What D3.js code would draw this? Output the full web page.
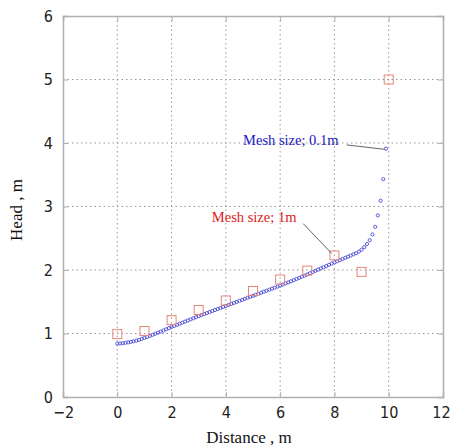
<!DOCTYPE html>
<html>
<head>
<meta charset="utf-8">
<script src="https://cdn.jsdelivr.net/npm/d3@7"></script>
<style>
body{margin:0;background:#fff;}
</style>
</head>
<body>
<div id="chart_area"></div>
<script>
// coarse mesh (1m) results
var coarse_x=[0,1,2,3,4,5,6,7,8,9,10];
var coarse_h=[0.99,1.04,1.21,1.37,1.52,1.67,1.85,1.99,2.23,1.97,5.0];
// fine mesh (0.1m) results, x = 0.0 .. 9.9
var fine_x=[0,0.1,0.2,0.3,0.4,0.5,0.6,0.7,0.8,0.9,
            1,1.1,1.2,1.3,1.4,1.5,1.6,1.7,1.8,1.9,
            2,2.1,2.2,2.3,2.4,2.5,2.6,2.7,2.8,2.9,
            3,3.1,3.2,3.3,3.4,3.5,3.6,3.7,3.8,3.9,
            4,4.1,4.2,4.3,4.4,4.5,4.6,4.7,4.8,4.9,
            5,5.1,5.2,5.3,5.4,5.5,5.6,5.7,5.8,5.9,
            6,6.1,6.2,6.3,6.4,6.5,6.6,6.7,6.8,6.9,
            7,7.1,7.2,7.3,7.4,7.5,7.6,7.7,7.8,7.9,
            8,8.1,8.2,8.3,8.4,8.5,8.6,8.7,8.8,8.9,
            9,9.1,9.2,9.3,9.4,9.5,9.6,9.7,9.8,9.9];
var fine_h=[0.84,0.843,0.847,0.853,0.86,0.868,0.877,0.888,0.90,0.915,
            0.93,0.946,0.962,0.979,0.996,1.013,1.03,1.048,1.066,1.084,
            1.102,1.12,1.137,1.154,1.171,1.188,1.205,1.222,1.239,1.256,
            1.273,1.29,1.306,1.322,1.338,1.354,1.37,1.386,1.402,1.418,
            1.434,1.45,1.466,1.482,1.498,1.514,1.53,1.546,1.562,1.578,
            1.594,1.61,1.626,1.642,1.658,1.674,1.69,1.706,1.722,1.738,
            1.754,1.771,1.788,1.805,1.822,1.84,1.858,1.876,1.894,1.912,
            1.93,1.949,1.968,1.987,2.006,2.025,2.044,2.063,2.082,2.101,
            2.12,2.138,2.156,2.174,2.192,2.21,2.228,2.247,2.266,2.29,
            2.32,2.36,2.41,2.47,2.56,2.68,2.86,3.09,3.43,3.91];
var x_ticks=[-2,0,2,4,6,8,10,12];
var y_ticks=[0,1,2,3,4,5,6];

var svg=d3.select("#chart_area")
          .append("svg")
          .attr("width",451)
          .attr("height",448);

var plot_l=63,plot_r=443,plot_t=16,plot_b=397;
var x=d3.scaleLinear().domain([-2,12]).range([plot_l,plot_r]);
var y=d3.scaleLinear().domain([0,6]).range([plot_b,plot_t]);

var tick_font="'DejaVu Sans Condensed','Liberation Sans Narrow',sans-serif";
var serif="'Liberation Serif','DejaVu Serif',serif";

// grid
svg.append("g").selectAll("line").data(x_ticks.slice(1,-1)).enter().append("line")
   .attr("x1",d=>x(d)).attr("x2",d=>x(d)).attr("y1",plot_t).attr("y2",plot_b)
   .attr("stroke","#999").attr("stroke-width",1).attr("stroke-dasharray","1.5,3");
svg.append("g").selectAll("line").data(y_ticks.slice(1,-1)).enter().append("line")
   .attr("x1",plot_l).attr("x2",plot_r).attr("y1",d=>y(d)).attr("y2",d=>y(d))
   .attr("stroke","#999").attr("stroke-width",1).attr("stroke-dasharray","1.5,3");

// axes
var xaxis=svg.append("g").attr("transform","translate(0,"+plot_b+")")
   .call(d3.axisBottom(x).tickValues(x_ticks).tickSize(-5).tickPadding(10).tickFormat(d3.format("d")));
var xaxis_top=svg.append("g").attr("transform","translate(0,"+plot_t+")")
   .call(d3.axisTop(x).tickValues(x_ticks).tickSize(-5).tickFormat(""));
var yaxis=svg.append("g").attr("transform","translate("+plot_l+",0)")
   .call(d3.axisLeft(y).tickValues(y_ticks).tickSize(-5).tickPadding(10).tickFormat(d3.format("d")));
var yaxis_r=svg.append("g").attr("transform","translate("+plot_r+",0)")
   .call(d3.axisRight(y).tickValues(y_ticks).tickSize(-5).tickFormat(""));
[xaxis,xaxis_top,yaxis,yaxis_r].forEach(function(a){
   a.select(".domain").attr("stroke","#b0b0b0").attr("stroke-width",1.5);
   a.selectAll(".tick line").attr("stroke","#b0b0b0").attr("stroke-width",1);
   a.selectAll("text").attr("fill","#222").style("font-family",tick_font).style("font-size","16px");
});
// keep the last x label inside the window
xaxis.selectAll(".tick text").filter(d=>d===12).attr("dx",-2);

// fine mesh points
svg.append("g").selectAll("circle").data(fine_x).enter().append("circle")
   .attr("cx",(d,i)=>x(d)).attr("cy",(d,i)=>y(fine_h[i])).attr("r",1.6)
   .attr("fill","none").attr("stroke","#3a3ad0").attr("stroke-width",0.8);

// coarse mesh squares
svg.append("g").selectAll("rect").data(coarse_x).enter().append("rect")
   .attr("x",(d,i)=>x(d)-4.5).attr("y",(d,i)=>y(coarse_h[i])-4.5)
   .attr("width",9).attr("height",9)
   .attr("fill","none").attr("stroke","#e8857a").attr("stroke-width",1);

// annotations
svg.append("line").attr("x1",x(8.45)).attr("y1",y(3.97)).attr("x2",x(9.85)).attr("y2",y(3.9))
   .attr("stroke","#666").attr("stroke-width",1);
svg.append("text").attr("x",x(8.15)).attr("y",145).attr("text-anchor","end")
   .attr("fill","#2020c0").style("font-family",serif).style("font-size","14.5px")
   .text("Mesh size; 0.1m");
svg.append("line").attr("x1",x(6.85)).attr("y1",y(2.73)).attr("x2",x(7.9)).attr("y2",y(2.26))
   .attr("stroke","#666").attr("stroke-width",1);
svg.append("text").attr("x",x(6.6)).attr("y",y(2.76)).attr("text-anchor","end")
   .attr("fill","#e02020").style("font-family",serif).style("font-size","14.5px")
   .text("Mesh size; 1m");

// axis titles
svg.append("text").attr("x",249).attr("y",443).attr("text-anchor","middle")
   .attr("fill","#111").style("font-family",serif).style("font-size","17px")
   .text("Distance , m");
svg.append("text").attr("transform","translate(22,210) rotate(-90)")
   .attr("text-anchor","middle")
   .attr("fill","#111").style("font-family",serif).style("font-size","17px")
   .text("Head , m");
</script>
</body>
</html>
